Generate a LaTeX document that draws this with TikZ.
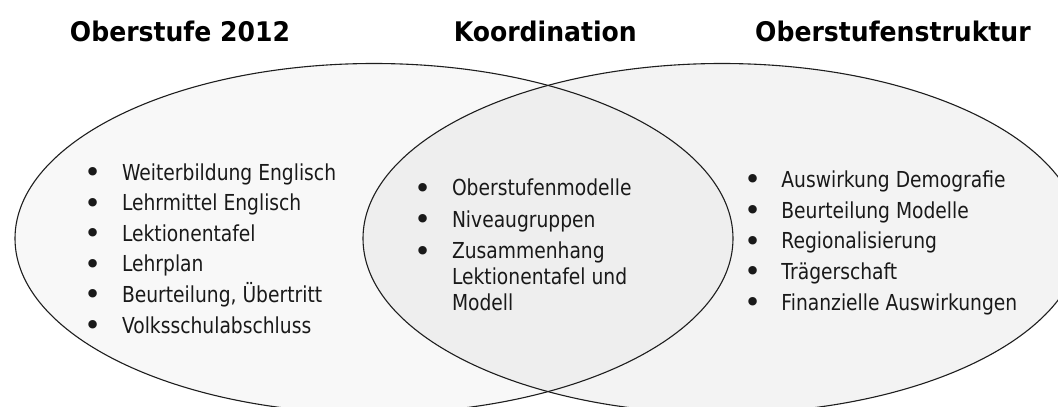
\documentclass[tikz,border=0pt]{standalone}
\usepackage{fontspec}
\newfontfamily\bodyfont{DejaVu Sans}[FakeStretch=0.85]
\newfontfamily\titlefont{DejaVu Sans}[FakeStretch=0.93]
\newfontfamily\dotfont{DejaVu Sans}

\definecolor{leftfill}{RGB}{248,248,248}
\definecolor{rightfill}{RGB}{243,243,243}
\definecolor{midfill}{RGB}{238,238,238}
\definecolor{rimcolor}{RGB}{30,30,30}

\tikzset{
	headline/.style={anchor=base, inner sep=0pt, font=\titlefont\bfseries\fontsize{27}{32}\selectfont},
	itemlist/.style={anchor=base west, inner sep=0pt, text=black!90},
	rim/.style={draw=rimcolor, line width=1.1pt},
	oval/.style={x radius=359pt, y radius=175pt}
}
\newcommand{\bul}{\makebox[0pt]{\raisebox{-2.4pt}{\dotfont\fontsize{29}{29}\selectfont\textbullet}}\hspace*{28.5pt}}
\newcommand{\cont}{\hspace*{28.5pt}}

\begin{document}
\begin{tikzpicture}[x=1pt,y=-1pt]
	% canvas
	\useasboundingbox (0,0) rectangle (1058,407);
	\fill[white] (0,0) rectangle (1058,407);
	\clip (0,0) rectangle (1058,407);

	% centres of the two sets
	\coordinate (L) at (374,238.5);
	\coordinate (R) at (722,238.5);

	% fill sets and overlap
	\fill[leftfill] (L) ellipse [oval];
	\fill[rightfill] (R) ellipse [oval];
	\begin{scope}
		\clip (L) ellipse [oval];
		\fill[midfill] (R) ellipse [oval];
	\end{scope}

	% outlines
	\draw[rim] (L) ellipse [oval];
	\draw[rim] (R) ellipse [oval];

	% headlines
	\node[headline] (oberstufe) at (180,41.7) {Oberstufe 2012};
	\node[headline] (koordination) at (545.3,41.7) {Koordination};
	\node[headline] (struktur) at (893,41.7) {Oberstufenstruktur};

	% lists
	\node[itemlist, font=\bodyfont\fontsize{22}{30.6}\selectfont] (links) at (93.3,180) {%
		\begin{tabular}[t]{@{}l@{}}
			\bul Weiterbildung Englisch\\
			\bul Lehrmittel Englisch\\
			\bul Lektionentafel\\
			\bul Lehrplan\\
			\bul Beurteilung, Übertritt\\
			\bul Volksschulabschluss
		\end{tabular}};
	\node[itemlist, font=\bodyfont\fontsize{22}{26}\selectfont] (mitte) at (423.3,195.7) {%
		\begin{tabular}[t]{@{}l@{}}
			\bul Oberstufenmodelle\\[5.5pt]
			\bul Niveaugruppen\\[5.5pt]
			\bul Zusammenhang\\
			\cont Lektionentafel und\\
			\cont Modell
		\end{tabular}};
	\node[itemlist, font=\bodyfont\fontsize{22}{30.7}\selectfont] (rechts) at (752.7,187.3) {%
		\begin{tabular}[t]{@{}l@{}}
			\bul Auswirkung Demografie\\
			\bul Beurteilung Modelle\\
			\bul Regionalisierung\\
			\bul Trägerschaft\\
			\bul Finanzielle Auswirkungen
		\end{tabular}};

\end{tikzpicture}
\end{document}
